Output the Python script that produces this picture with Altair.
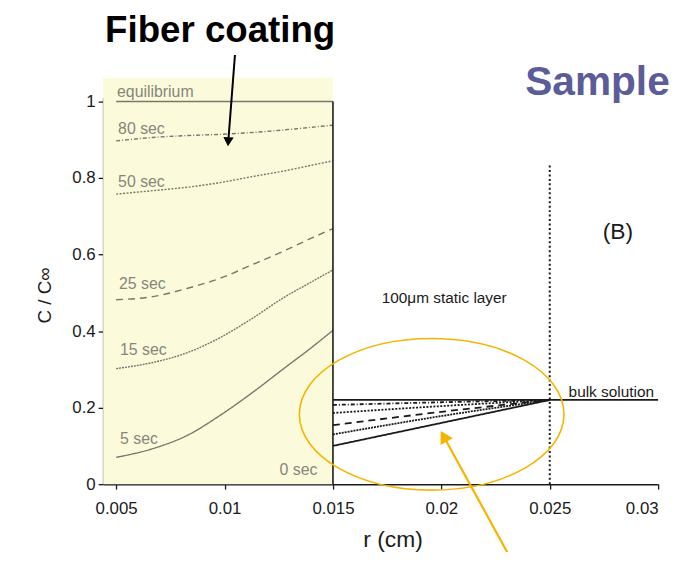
import altair as alt
import pandas as pd

# ---------------- data ----------------
series_names = ["equilibrium", "80 sec", "50 sec", "25 sec", "15 sec", "5 sec"]

# concentration profiles inside the fiber coating (r from 0.005 to 0.015 cm)
fiber_r = [0.005, 0.0067, 0.0083, 0.0098, 0.0113, 0.0128, 0.0139, 0.015]
fiber_equilibrium = [1.0, 1.0, 1.0, 1.0, 1.0, 1.0, 1.0, 1.0]
fiber_80 = [0.897, 0.906, 0.911, 0.914, 0.919, 0.926, 0.932, 0.938]
fiber_50 = [0.758, 0.767, 0.776, 0.788, 0.804, 0.819, 0.832, 0.845]
fiber_25 = [0.482, 0.490, 0.512, 0.538, 0.574, 0.611, 0.640, 0.668]
fiber_15 = [0.302, 0.318, 0.344, 0.383, 0.434, 0.490, 0.525, 0.560]
fiber_5 = [0.070, 0.093, 0.128, 0.180, 0.240, 0.305, 0.352, 0.402]

# profiles in the 100 µm static layer (r from 0.015 to 0.025 cm)
layer_r = [0.015, 0.020, 0.025]
layer_equilibrium = [0.220, 0.220, 0.220]
layer_80 = [0.207, 0.214, 0.220]
layer_50 = [0.186, 0.204, 0.220]
layer_25 = [0.154, 0.189, 0.220]
layer_15 = [0.130, 0.178, 0.220]
layer_5 = [0.100, 0.160, 0.220]

# bulk solution
bulk_r = [0.025, 0.030]
bulk_c = [0.220, 0.220]

fiber_edge_r = 0.015
fiber_top_c = 1.0
layer_edge_r = 0.025
layer_edge_top_c = 0.837

x_ticks = [0.005, 0.01, 0.015, 0.02, 0.025, 0.03]
y_ticks = [0, 0.2, 0.4, 0.6, 0.8, 1.0]

# ---------------- styling ----------------
FONT = "Liberation Sans"
GRAY = "#77776d"
LABEL_GRAY = "#86867b"
DARK = "#1a1a1a"
YELLOW_FILL = "#fbfbdc"
GOLD = "#f5b400"
SAMPLE_BLUE = "#5c5c99"

rows = []
for name, vals in zip(series_names, [fiber_equilibrium, fiber_80, fiber_50, fiber_25, fiber_15, fiber_5]):
    for r, c in zip(fiber_r, vals):
        rows.append({"r": r, "c": c, "series": name, "region": "fiber"})
for name, vals in zip(series_names, [layer_equilibrium, layer_80, layer_50, layer_25, layer_15, layer_5]):
    for r, c in zip(layer_r, vals):
        rows.append({"r": r, "c": c, "series": name, "region": "layer"})
for r, c in zip(bulk_r, bulk_c):
    rows.append({"r": r, "c": c, "series": "bulk solution", "region": "layer"})
lines_df = pd.DataFrame(rows)

x_scale = alt.Scale(domain=[0.0044, 0.030], nice=False, zero=False)
y_scale = alt.Scale(domain=[0, 1.01], nice=False, zero=False)

x_axis = alt.Axis(
    values=x_ticks, format="~g", title="r (cm)", grid=False,
    domainColor=DARK, domainWidth=1.5, tickColor=DARK, tickWidth=1.3, tickSize=5,
    labelFont=FONT, labelFontSize=17, labelColor=DARK, labelPadding=12,
    titleFont=FONT, titleFontSize=23, titleFontWeight="normal", titleColor=DARK,
    titleX=292, titleY=63, titleBaseline="alphabetic", titleAlign="center",
)
y_axis = alt.Axis(
    values=y_ticks, format="~g", title="C / C\u221e", grid=False,
    domainColor=DARK, domainWidth=1.5, tickColor=DARK, tickWidth=1.3, tickSize=5,
    labelFont=FONT, labelFontSize=17, labelColor=DARK, labelPadding=3,
    titleFont=FONT, titleFontSize=19, titleFontWeight="normal", titleColor=DARK,
    titleX=-59, titleY=199, titleBaseline="middle", titleAlign="center", titleAngle=270,
)

X = alt.X("r:Q", scale=x_scale, axis=x_axis)
Y = alt.Y("c:Q", scale=y_scale, axis=y_axis)

# yellow fiber-coating background
rect_df = pd.DataFrame({"r": [0.0044], "r2": [fiber_edge_r], "c": [0.0], "c2": [1.062]})
rect = alt.Chart(rect_df).mark_rect(color=YELLOW_FILL).encode(x=X, x2="r2:Q", y=Y, y2="c2:Q")

dash_domain = series_names + ["bulk solution"]
dash_range = [[1, 0], [4, 2, 1, 2], [2, 1.5], [7, 5], [2, 1], [1, 0], [1, 0]]

lines = alt.Chart(lines_df).mark_line(interpolate="monotone").encode(
    x=X, y=Y,
    color=alt.Color("region:N", scale=alt.Scale(domain=["fiber", "layer"], range=[GRAY, DARK]), legend=None),
    strokeDash=alt.StrokeDash("series:N", scale=alt.Scale(domain=dash_domain, range=dash_range), legend=None),
    strokeWidth=alt.StrokeWidth("region:N", scale=alt.Scale(domain=["fiber", "layer"], range=[1.4, 1.8]), legend=None),
    detail=["series:N", "region:N"],
)

edge_df = pd.DataFrame({"r": [fiber_edge_r], "r2": [fiber_edge_r], "c": [0.0], "c2": [fiber_top_c]})
edge = alt.Chart(edge_df).mark_rule(color=DARK, strokeWidth=1.6).encode(x=X, y=Y, y2="c2:Q")

dotted_df = pd.DataFrame({"r": [layer_edge_r], "c": [0.0], "c2": [layer_edge_top_c]})
dotted = alt.Chart(dotted_df).mark_rule(color=DARK, strokeWidth=2, strokeDash=[2, 2.5]).encode(x=X, y=Y, y2="c2:Q")

# labels
gray_labels_df = pd.DataFrame({
    "r": [0.00504, 0.00509, 0.00509, 0.00513, 0.00518, 0.00518, 0.01254],
    "c": [1.0127, 0.9143, 0.777, 0.5102, 0.3367, 0.1062, 0.0233],
    "text": ["equilibrium", "80 sec", "50 sec", "25 sec", "15 sec", "5 sec", "0 sec"],
})
gray_labels = alt.Chart(gray_labels_df).mark_text(
    align="left", baseline="alphabetic", font=FONT, fontSize=16, color=LABEL_GRAY
).encode(x=X, y=Y, text="text:N")

black_labels_df = pd.DataFrame({
    "r": [0.01725, 0.02587],
    "c": [0.474, 0.2279],
    "text": ["100\u03bcm static layer", "bulk solution"],
})
black_labels = alt.Chart(black_labels_df).mark_text(
    align="left", baseline="alphabetic", font=FONT, fontSize=15.5, color=DARK
).encode(x=X, y=Y, text="text:N")

b_df = pd.DataFrame({"r": [0.02744], "c": [0.6398], "text": ["(B)"]})
b_label = alt.Chart(b_df).mark_text(
    align="left", baseline="alphabetic", font=FONT, fontSize=23, color=DARK
).encode(x=X, y=Y, text="text:N")

sample_df = pd.DataFrame({"r": [0.02387], "c": [1.0179], "text": ["Sample"]})
sample_label = alt.Chart(sample_df).mark_text(
    align="left", baseline="alphabetic", font=FONT, fontSize=41, fontWeight="bold", color=SAMPLE_BLUE
).encode(x=X, y=Y, text="text:N")

fiber_df = pd.DataFrame({"r": [0.00449], "c": [1.1551], "text": ["Fiber coating"]})
fiber_label = alt.Chart(fiber_df).mark_text(
    align="left", baseline="alphabetic", font=FONT, fontSize=37, fontWeight="bold", color="#000000"
).encode(x=X, y=Y, text="text:N")

# annotation ellipse and arrows
ellipse_df = pd.DataFrame({"r": [0.019554], "c": [0.1826]})
ellipse_path = "M -1 0 A 1 0.573 0 1 0 1 0 A 1 0.573 0 1 0 -1 0 Z"
ellipse = alt.Chart(ellipse_df).mark_point(
    shape=ellipse_path, size=71289, filled=False, color=GOLD, strokeWidth=1.6, opacity=1
).encode(x=X, y=Y)

black_arrow_df = pd.DataFrame({"r": [0.01048], "c": [1.1215], "r2": [0.01018], "c2": [0.901]})
black_arrow = alt.Chart(black_arrow_df).mark_rule(color="#000000", strokeWidth=2).encode(
    x=X, y=Y, x2="r2:Q", y2="c2:Q")
black_head_df = pd.DataFrame({"r": [0.01017], "c": [0.8948]})
black_head = alt.Chart(black_head_df).mark_point(
    shape="triangle-down", angle=4, size=110, filled=True, color="#000000", opacity=1
).encode(x=X, y=Y)

gold_arrow_df = pd.DataFrame({"r": [0.02334], "c": [-0.209], "r2": [0.02011], "c2": [0.1248]})
gold_arrow = alt.Chart(gold_arrow_df).mark_rule(color=GOLD, strokeWidth=2.2).encode(
    x=X, y=Y, x2="r2:Q", y2="c2:Q")
gold_head_df = pd.DataFrame({"r": [0.02011], "c": [0.1248]})
gold_head = alt.Chart(gold_head_df).mark_point(
    shape="triangle-up", angle=331, size=200, filled=True, color=GOLD, opacity=1
).encode(x=X, y=Y)

chart = alt.layer(
    rect, lines, edge, dotted,
    gray_labels, black_labels, b_label, sample_label, fiber_label,
    ellipse, black_arrow, black_head, gold_arrow, gold_head,
).properties(
    width=560, height=390,
    autosize=alt.AutoSizeParams(type="none"),
    padding={"left": 96, "top": 88, "right": 16, "bottom": 66},
    background="white",
).configure_view(stroke=None)

chart.save("out.html", embed_options={"renderer": "svg", "actions": False})
